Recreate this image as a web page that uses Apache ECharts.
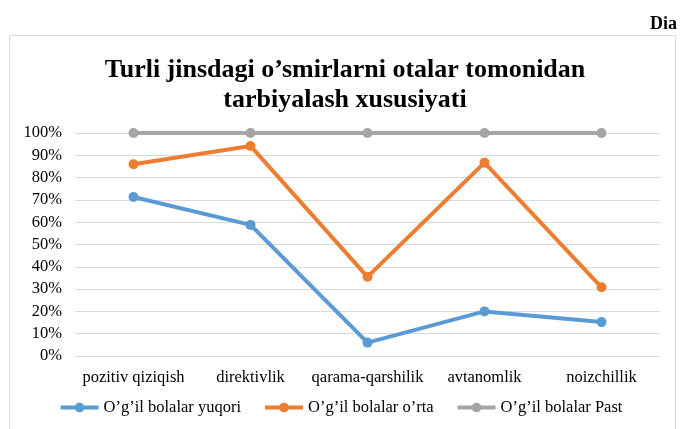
<!DOCTYPE html>
<html>
<head>
<meta charset="utf-8">
<script src="https://cdn.jsdelivr.net/npm/echarts@6/dist/echarts.min.js"></script>
<style>
  html, body { margin: 0; padding: 0; background: #fff; }
  #chart { width: 681px; height: 429px; }
</style>
</head>
<body>
<div id="chart"></div>
<script>
// categories and series values (percent)
var categories = ['pozitiv qiziqish', 'direktivlik', 'qarama-qarshilik', 'avtanomlik', 'noizchillik'];
var yuqori = [71.3, 58.8, 6, 20, 15.2];
var orta = [86, 94.2, 35.5, 86.7, 30.8];
var past = [100, 100, 100, 100, 100];

var serif = '"Liberation Serif", "Times New Roman", serif';

var myChart = echarts.init(document.getElementById('chart'));

function lineSeries(name, data, color) {
  return {
    name: name,
    type: 'line',
    data: data,
    symbol: 'circle',
    symbolSize: 10,
    lineStyle: { width: 4, color: color },
    itemStyle: { color: color },
    animation: false
  };
}

myChart.setOption({
  backgroundColor: '#fff',
  title: {
    text: 'Turli jinsdagi o\u2019smirlarni otalar tomonidan\ntarbiyalash xususiyati',
    left: 340,
    textAlign: 'center',
    top: 50,
    textStyle: {
      fontFamily: serif,
      fontWeight: 'bold',
      fontSize: 26,
      lineHeight: 30,
      color: '#000'
    }
  },
  graphic: [
    {
      type: 'rect',
      shape: { x: 9.5, y: 35.5, width: 666, height: 400 },
      style: { fill: 'none', stroke: '#d9d9d9', lineWidth: 1 },
      silent: true
    },
    {
      type: 'text',
      left: 650,
      top: 15,
      style: { text: 'Dia', font: 'bold 18px ' + serif, fill: '#000' }
    }
  ],
  legend: {
    bottom: 8,
    left: 'center',
    itemWidth: 38,
    itemHeight: 12,
    itemGap: 22,
    lineStyle: { width: 4 },
    textStyle: { fontFamily: serif, fontSize: 16.5, color: '#000' },
    data: ['O\u2019g\u2019il bolalar yuqori', 'O\u2019g\u2019il bolalar o\u2019rta', 'O\u2019g\u2019il bolalar Past']
  },
  grid: {
    left: 75,
    right: 21,
    top: 133,
    bottom: 73,
    containLabel: false
  },
  xAxis: {
    type: 'category',
    data: categories,
    boundaryGap: true,
    axisLine: { show: false },
    axisTick: { show: false },
    axisLabel: { interval: 0, fontFamily: serif, fontSize: 16.5, color: '#000', margin: 13 }
  },
  yAxis: {
    type: 'value',
    min: 0,
    max: 100,
    interval: 10,
    axisLine: { show: false },
    axisTick: { show: false },
    axisLabel: { fontFamily: serif, fontSize: 16.5, color: '#000', formatter: '{value}%', margin: 13 },
    splitLine: { lineStyle: { color: '#d9d9d9', width: 1 } }
  },
  series: [
    lineSeries('O\u2019g\u2019il bolalar yuqori', yuqori, '#5b9bd5'),
    lineSeries('O\u2019g\u2019il bolalar o\u2019rta', orta, '#ed7d31'),
    lineSeries('O\u2019g\u2019il bolalar Past', past, '#a5a5a5')
  ]
});
</script>
</body>
</html>
